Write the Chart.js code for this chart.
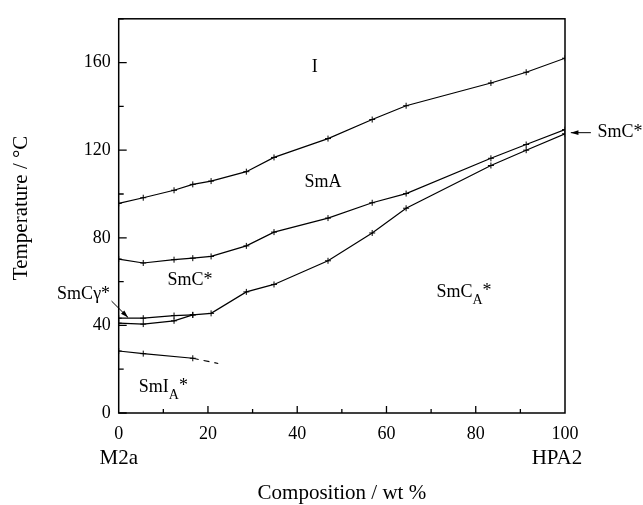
<!DOCTYPE html>
<html>
<head>
<meta charset="utf-8">
<script src="https://cdn.jsdelivr.net/npm/chart.js@4/dist/chart.umd.min.js"></script>
<style>
  html, body { margin: 0; padding: 0; background: #fff; }
  #wrap { width: 643px; height: 505px; }
</style>
</head>
<body>
<div id="wrap"><canvas id="diagrama"></canvas></div>
<script>
// composicao (wt % HPA2) dos pontos medidos
const composicao = [0, 5.5, 12.4, 16.6, 20.7, 28.6, 34.8, 46.9, 56.8, 64.4, 83.4, 91.3, 100];

// I - SmA
const tIsoSmA = [95.7, 98.3, 101.7, 104.4, 105.9, 110.2, 116.7, 125.3, 134.0, 140.3, 150.7, 155.6, 162.0];
// SmA - SmC*
const tSmASmC = [70.3, 68.5, 70.0, 70.7, 71.5, 76.3, 82.6, 89.0, 96.0, 100.2, 116.3, 122.6, 129.4];
// SmC* (ou SmCγ*) - SmCA*
const tSmCSmCA = [41.0, 40.6, 42.1, 44.8, 45.5, 55.3, 58.7, 69.5, 82.2, 93.5, 113.0, 120.0, 127.5];
// SmC* - SmCγ*
const xSmCgama = [0, 5.5, 12.4, 16.6];
const tSmCgama = [43.3, 43.3, 44.5, 44.8];
// SmCA* - SmIA* (ultimo trecho tracejado)
const xSmIA = [0, 5.5, 16.6, 22.3];
const tSmIA = [28.3, 27.1, 25.0, 22.6];

const yTicks = [0, 40, 80, 120, 160];
const xTicks = [0, 20, 40, 60, 80, 100];

const fonte = '"Liberation Serif", "DejaVu Serif", serif';

function pontos(xs, ys) {
    return xs.map((x, i) => ({ x: x, y: ys[i] }));
}

function linha(xs, ys) {
    return {
        data: pontos(xs, ys),
        showLine: true,
        borderColor: '#000',
        backgroundColor: '#000',
        borderWidth: 1.2,
        pointStyle: 'cross',
        pointRadius: 3,
        pointBorderWidth: 1,
        tension: 0
    };
}

const dsIA = linha(xSmIA, tSmIA);
dsIA.pointRadius = xSmIA.map((x, i) => i === xSmIA.length - 1 ? 0 : 3);
dsIA.segment = {
    borderDash: ctx => ctx.p1DataIndex === xSmIA.length - 1 ? [6, 5] : undefined
};

// moldura, tracos internos dos eixos e textos do diagrama
const desenhos = {
    id: 'desenhos',
    afterDraw(chart) {
        const ctx = chart.ctx;
        const a = chart.chartArea;
        const sx = chart.scales.x, sy = chart.scales.y;
        const px = v => sx.getPixelForValue(v);
        const py = v => sy.getPixelForValue(v);
        ctx.save();
        ctx.strokeStyle = '#000';
        ctx.fillStyle = '#000';

        ctx.lineWidth = 1.5;
        ctx.strokeRect(a.left, a.top, a.right - a.left, a.bottom - a.top);

        ctx.lineWidth = 1.3;
        ctx.beginPath();
        for (let v = 0; v <= 180; v += 20) {
            const len = yTicks.includes(v) ? 8 : 5;
            ctx.moveTo(a.left, py(v));
            ctx.lineTo(a.left + len, py(v));
        }
        for (let v = 10; v < 100; v += 10) {
            const len = xTicks.includes(v) ? 7 : 4;
            ctx.moveTo(px(v), a.bottom);
            ctx.lineTo(px(v), a.bottom - len);
        }
        ctx.stroke();

        ctx.textBaseline = 'middle';
        ctx.textAlign = 'left';
        ctx.font = '18px ' + fonte;

        function rotulo(texto, sub, x, y) {
            ctx.font = '18px ' + fonte;
            ctx.fillText(texto, x, y);
            let w = ctx.measureText(texto).width;
            if (sub) {
                ctx.font = '14px ' + fonte;
                ctx.fillText(sub, x + w, y + 8);
                w += ctx.measureText(sub).width;
                ctx.font = '18px ' + fonte;
                ctx.fillText('*', x + w, y - 1);
            }
        }

        ctx.textAlign = 'center';
        ctx.fillText('I', px(43.9), py(157.9));
        ctx.fillText('SmA', px(45.8), py(105.5));
        ctx.fillText('SmC*', px(16), py(60.5));
        ctx.textAlign = 'left';
        rotulo('SmC', 'A', px(71.2), py(55.3));
        rotulo('SmI', 'A', px(4.5), py(11.8));
        ctx.fillText('SmCγ*', px(-13.8), py(54.2));
        ctx.fillText('SmC*', px(107.3), py(128));

        function seta(x1, y1, x2, y2) {
            ctx.lineWidth = 1;
            ctx.beginPath();
            ctx.moveTo(x1, y1);
            ctx.lineTo(x2, y2);
            ctx.stroke();
            const ang = Math.atan2(y2 - y1, x2 - x1);
            ctx.beginPath();
            ctx.moveTo(x2, y2);
            ctx.lineTo(x2 - 8 * Math.cos(ang - 0.3), y2 - 8 * Math.sin(ang - 0.3));
            ctx.lineTo(x2 - 8 * Math.cos(ang + 0.3), y2 - 8 * Math.sin(ang + 0.3));
            ctx.closePath();
            ctx.fill();
        }
        seta(px(-1.6), py(51.1), px(2.1), py(43.6));
        seta(px(105.8), py(128), px(101.3), py(128));

        ctx.font = '21px ' + fonte;
        ctx.textAlign = 'center';
        ctx.fillText('M2a', px(0), a.bottom + 45);
        ctx.fillText('HPA2', px(98.2), a.bottom + 45);
        ctx.fillText('Composition / wt %', (a.left + a.right) / 2, a.bottom + 80);

        ctx.translate(21, (a.top + a.bottom) / 2 - 8);
        ctx.rotate(-Math.PI / 2);
        ctx.fillText('Temperature / °C', 0, 0);
        ctx.restore();
    }
};

new Chart(document.getElementById('diagrama'), {
    type: 'scatter',
    data: {
        datasets: [
            linha(composicao, tIsoSmA),
            linha(composicao, tSmASmC),
            linha(composicao, tSmCSmCA),
            linha(xSmCgama, tSmCgama),
            dsIA
        ]
    },
    options: {
        responsive: true,
        maintainAspectRatio: false,
        animation: false,
        layout: { padding: { top: 12, right: 78, left: 0, bottom: 0 } },
        plugins: {
            legend: { display: false },
            tooltip: { enabled: false }
        },
        scales: {
            x: {
                type: 'linear',
                min: 0,
                max: 100,
                afterFit: scale => { scale.height = 92; },
                afterBuildTicks: scale => { scale.ticks = xTicks.map(v => ({ value: v })); },
                grid: { display: false, drawTicks: false },
                border: { display: false },
                ticks: {
                    padding: 10,
                    color: '#000',
                    font: { family: fonte, size: 18 },
                    maxRotation: 0
                }
            },
            y: {
                type: 'linear',
                min: 0,
                max: 180,
                afterFit: scale => { scale.width = 118.7; },
                afterBuildTicks: scale => { scale.ticks = yTicks.map(v => ({ value: v })); },
                grid: { display: false, drawTicks: false },
                border: { display: false },
                ticks: {
                    padding: 8,
                    color: '#000',
                    font: { family: fonte, size: 18 }
                }
            }
        }
    },
    plugins: [desenhos]
});
</script>
</body>
</html>
